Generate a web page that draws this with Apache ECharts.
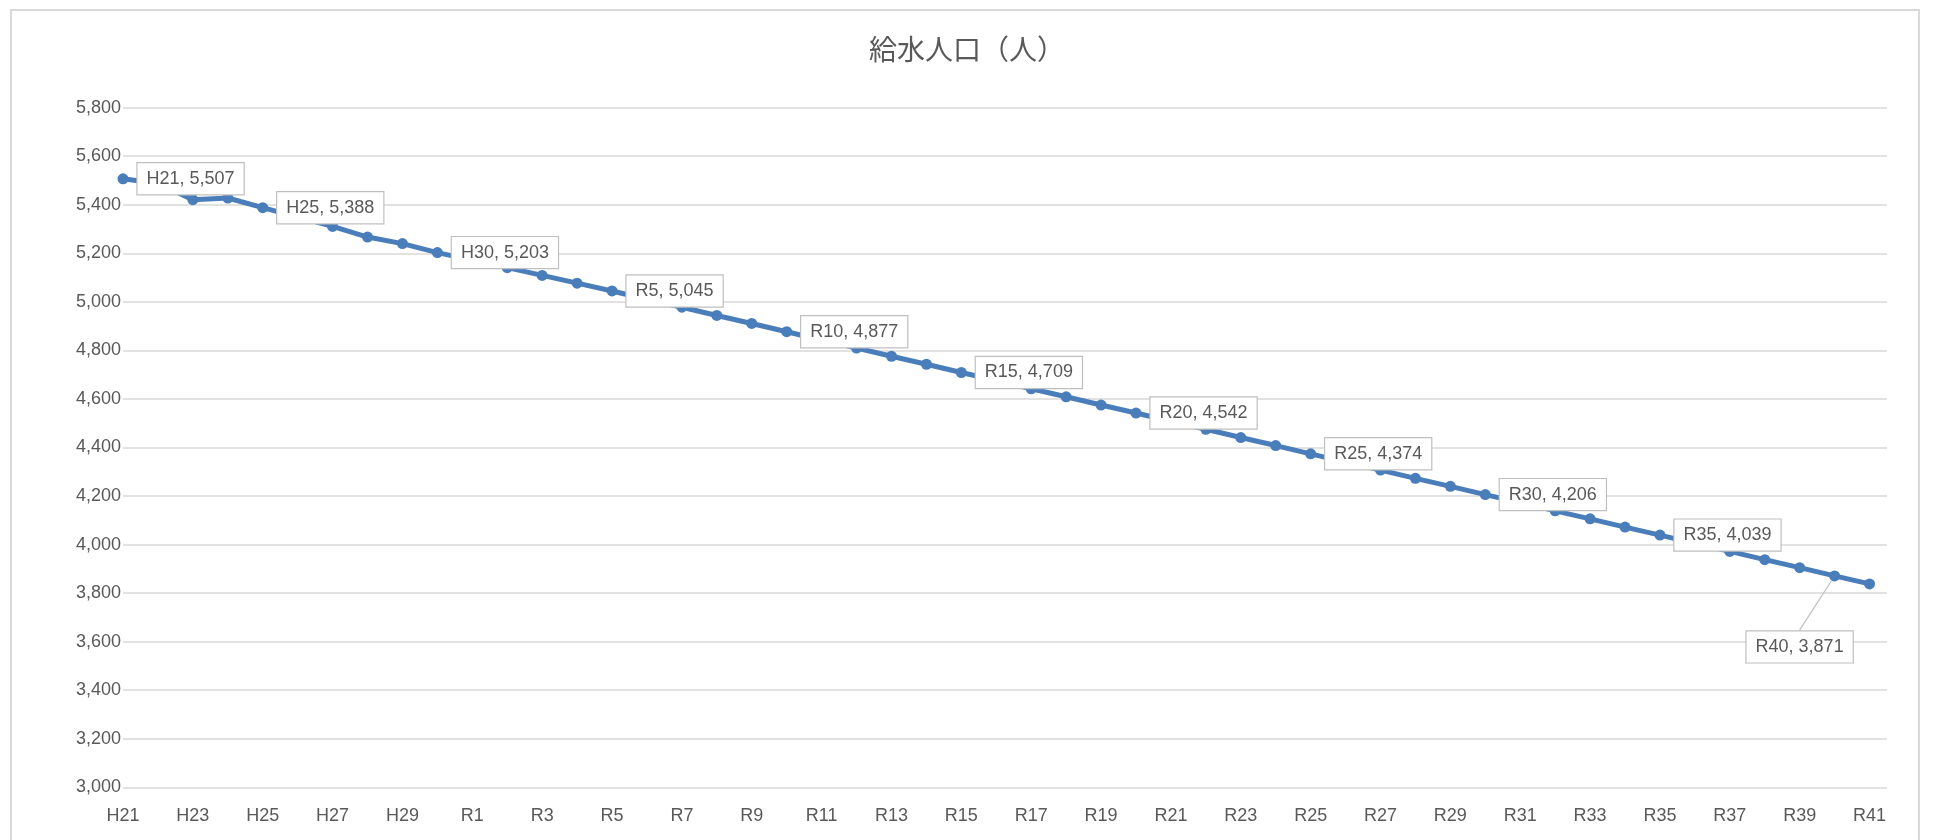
<!DOCTYPE html>
<html lang="ja">
<head>
<meta charset="utf-8">
<title>給水人口（人）</title>
<script src="https://cdn.jsdelivr.net/npm/echarts@6/dist/echarts.min.js"></script>
<style>
  html, body { margin: 0; padding: 0; background: #ffffff; overflow: hidden; }
  #frame {
    position: absolute; left: 10px; top: 9px; width: 1910px; height: 900px;
    border: 2px solid #d9d9d9; box-sizing: border-box;
  }
  #chart { position: absolute; left: 0; top: 0; width: 1934px; height: 840px; }
</style>
</head>
<body>
<div id="frame"></div>
<div id="chart"></div>
<script>
// Fiscal years (Heisei 21 – Reiwa 41)
const categories = [
  'H21','H22','H23','H24','H25','H26','H27','H28','H29','H30',
  'R1','R2','R3','R4','R5','R6','R7','R8','R9','R10',
  'R11','R12','R13','R14','R15','R16','R17','R18','R19','R20',
  'R21','R22','R23','R24','R25','R26','R27','R28','R29','R30',
  'R31','R32','R33','R34','R35','R36','R37','R38','R39','R40','R41'
];

// Population served by the water supply (persons)
const population = [
  5507, 5488, 5421, 5428, 5388, 5349, 5311, 5267, 5240, 5203,
  5172, 5141, 5109, 5077, 5045, 5011, 4978, 4944, 4911, 4877,
  4843, 4810, 4776, 4743, 4709, 4676, 4642, 4609, 4575, 4542,
  4508, 4475, 4441, 4408, 4374, 4340, 4307, 4273, 4240, 4206,
  4173, 4139, 4106, 4072, 4039, 4005, 3972, 3938, 3905, 3871, 3838
];

// Years that carry a value callout
const labeledYears = ['H21','H25','H30','R5','R10','R15','R20','R25','R30','R35','R40'];
// Callout that sits below the line with a leader
const leaderYear = 'R40';

// Value axis ticks
const yMin = 3000, yMax = 5800, yStep = 200;

const fmt = v => Number(v).toLocaleString('en-US');

const labelBox = {
  color: '#595959',
  fontFamily: '"Liberation Sans", Arial, sans-serif',
  fontSize: 18,
  backgroundColor: '#ffffff',
  borderColor: '#bfbfbf',
  borderWidth: 1.2,
  padding: [7, 9, 6, 9],
  formatter: p => categories[p.value[0]] + ', ' + fmt(p.value[1])
};

const seriesData = population.map((v, i) => {
  const name = categories[i];
  if (!labeledYears.includes(name)) return [i, v];
  const item = { value: [i, v], label: Object.assign({ show: true, position: 'right', distance: 9 }, labelBox) };
  if (name === leaderYear) {
    item.label.position = 'inside';
    item.labelLine = { show: true, lineStyle: { color: '#bfbfbf', width: 1.2 } };
  }
  return item;
});

const chart = echarts.init(document.getElementById('chart'), null, { renderer: 'canvas' });

chart.setOption({
  animation: false,
  backgroundColor: 'transparent',
  title: {
    text: '給水人口（人）',
    left: 'center',
    top: 30,
    textStyle: {
      color: '#595959',
      fontSize: 28,
      fontWeight: 'normal',
      fontFamily: '"Noto Sans CJK JP", sans-serif'
    }
  },
  grid: { left: 123, right: 47, top: 107.7, bottom: 52.7, containLabel: false },
  xAxis: {
    type: 'value',
    min: 0,
    max: categories.length - 0.5,
    interval: 2,
    axisLine: { show: false },
    axisTick: { show: false },
    splitLine: { show: false },
    axisLabel: {
      color: '#595959',
      fontFamily: '"Liberation Sans", Arial, sans-serif',
      fontSize: 18,
      margin: 20,
      showMaxLabel: true,
      formatter: v => (Number.isInteger(v) && categories[v]) ? categories[v] : ''
    }
  },
  yAxis: {
    type: 'value',
    min: yMin,
    max: yMax,
    interval: yStep,
    axisLine: { show: false },
    axisTick: { show: false },
    splitLine: { lineStyle: { color: '#d9d9d9', width: 1.5 } },
    axisLabel: {
      color: '#595959',
      fontFamily: '"Liberation Sans", Arial, sans-serif',
      fontSize: 18,
      margin: 2,
      formatter: v => fmt(v)
    }
  },
  series: [{
    type: 'line',
    data: seriesData,
    symbol: 'circle',
    symbolSize: 11,
    showAllSymbol: true,
    lineStyle: { color: '#4a7ebb', width: 5 },
    itemStyle: { color: '#4a7ebb' },
    label: { show: false },
    labelLayout: p => (categories[p.dataIndex] === leaderYear ? { dx: -35, dy: 71 } : {})
  }]
});
</script>
</body>
</html>
